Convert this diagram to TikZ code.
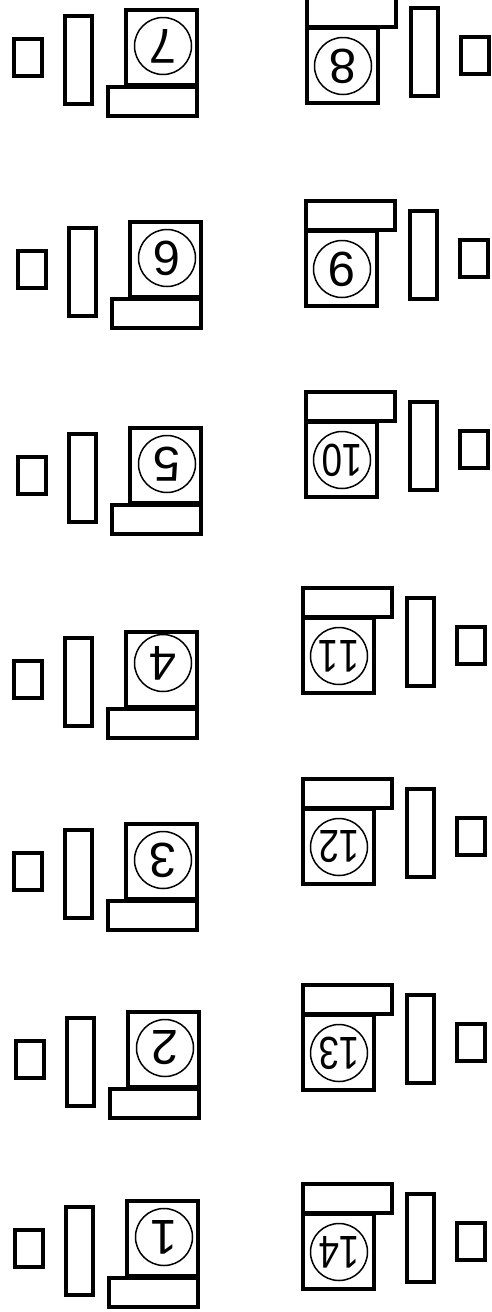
\documentclass[tikz,border=0pt]{standalone}
\usepackage{fontspec}
\setmainfont{Liberation Sans}
\usepackage{tikz}
\usetikzlibrary{positioning}

\newcommand{\slim}[1]{{\fontsize{46}{46}\selectfont\scalebox{0.8}[1]{#1}}}

\begin{document}
\begin{tikzpicture}[
    x=1pt, y=-1pt,
    screen/.style={rectangle, draw=black, line width=4pt, minimum width=71pt, minimum height=75pt, inner sep=0pt, outer sep=0pt},
    keys/.style={rectangle, draw=black, line width=4pt, minimum width=89pt, minimum height=29pt, inner sep=0pt, outer sep=0pt},
    tower/.style={rectangle, draw=black, line width=4pt, minimum width=27pt, minimum height=88pt, inner sep=0pt, outer sep=0pt},
    chair/.style={rectangle, draw=black, line width=4pt, minimum width=28pt, minimum height=37pt, inner sep=0pt, outer sep=0pt},
    seat/.style={circle, draw=black, line width=1.5pt, minimum size=57pt, inner sep=0pt, rotate=180, font=\fontsize{49}{49}\selectfont}
]
\useasboundingbox (0,0) rectangle (492,1312);

% Left row (seats 7 to 1, top to bottom)
\node[keys] (kb7) at (152.5,101) {};
\node[screen] (mon7) at (161.5,47.5) {};
\node[tower] (pc7) at (78.5,60) {};
\node[chair] (ch7) at (28,57.5) {};
\node[seat] (s7) at (163,46) {7};

\node[keys] (kb6) at (156.5,313) {};
\node[screen] (mon6) at (165.5,259.5) {};
\node[tower] (pc6) at (82.5,272) {};
\node[chair] (ch6) at (32,269.5) {};
\node[seat] (s6) at (167,258) {6};

\node[keys] (kb5) at (156.5,519) {};
\node[screen] (mon5) at (165.5,465.5) {};
\node[tower] (pc5) at (82.5,478) {};
\node[chair] (ch5) at (32,475.5) {};
\node[seat] (s5) at (167,464) {5};

\node[keys] (kb4) at (152.5,723) {};
\node[screen] (mon4) at (161.5,669.5) {};
\node[tower] (pc4) at (78.5,682) {};
\node[chair] (ch4) at (28,679.5) {};
\node[seat] (s4) at (163,663) {4};

\node[keys] (kb3) at (152.5,915) {};
\node[screen] (mon3) at (161.5,861.5) {};
\node[tower] (pc3) at (78.5,874) {};
\node[chair] (ch3) at (28,871.5) {};
\node[seat] (s3) at (163,860) {3};

\node[keys] (kb2) at (154.5,1103) {};
\node[screen] (mon2) at (163.5,1049.5) {};
\node[tower] (pc2) at (80.5,1062) {};
\node[chair] (ch2) at (30,1059.5) {};
\node[seat] (s2) at (165,1048) {2};

\node[keys] (kb1) at (153.5,1292) {};
\node[screen] (mon1) at (162.5,1238.5) {};
\node[tower] (pc1) at (79.5,1251) {};
\node[chair] (ch1) at (29,1248.5) {};
\node[seat] (s1) at (164,1237) {1};

% Right row (seats 8 to 14, top to bottom)
\node[keys] (kb8) at (351,12) {};
\node[screen] (mon8) at (342,65.5) {};
\node[tower] (pc8) at (424.5,52) {};
\node[chair] (ch8) at (474.5,55) {};
\node[seat] (s8) at (343,66) {8};

\node[keys] (kb9) at (350,215) {};
\node[screen] (mon9) at (341,268.5) {};
\node[tower] (pc9) at (423.5,255) {};
\node[chair] (ch9) at (473.5,258) {};
\node[seat] (s9) at (342,269) {9};

\node[keys] (kb10) at (350,406) {};
\node[screen] (mon10) at (341,459.5) {};
\node[tower] (pc10) at (423.5,446) {};
\node[chair] (ch10) at (473.5,449) {};
\node[seat] (s10) at (342,460) {\slim{10}};

\node[keys] (kb11) at (347,602) {};
\node[screen] (mon11) at (338,655.5) {};
\node[tower] (pc11) at (420.5,642) {};
\node[chair] (ch11) at (470.5,645) {};
\node[seat] (s11) at (339,656) {\slim{1\kern1pt1}};

\node[keys] (kb12) at (347,793) {};
\node[screen] (mon12) at (338,846.5) {};
\node[tower] (pc12) at (420.5,833) {};
\node[chair] (ch12) at (470.5,836) {};
\node[seat] (s12) at (339,847) {\slim{12}};

\node[keys] (kb13) at (347,999) {};
\node[screen] (mon13) at (338,1052.5) {};
\node[tower] (pc13) at (420.5,1039) {};
\node[chair] (ch13) at (470.5,1042) {};
\node[seat] (s13) at (339,1053) {\slim{13}};

\node[keys] (kb14) at (347,1198) {};
\node[screen] (mon14) at (338,1251.5) {};
\node[tower] (pc14) at (420.5,1238) {};
\node[chair] (ch14) at (470.5,1241) {};
\node[seat] (s14) at (339,1252) {\slim{14}};

\end{tikzpicture}
\end{document}
